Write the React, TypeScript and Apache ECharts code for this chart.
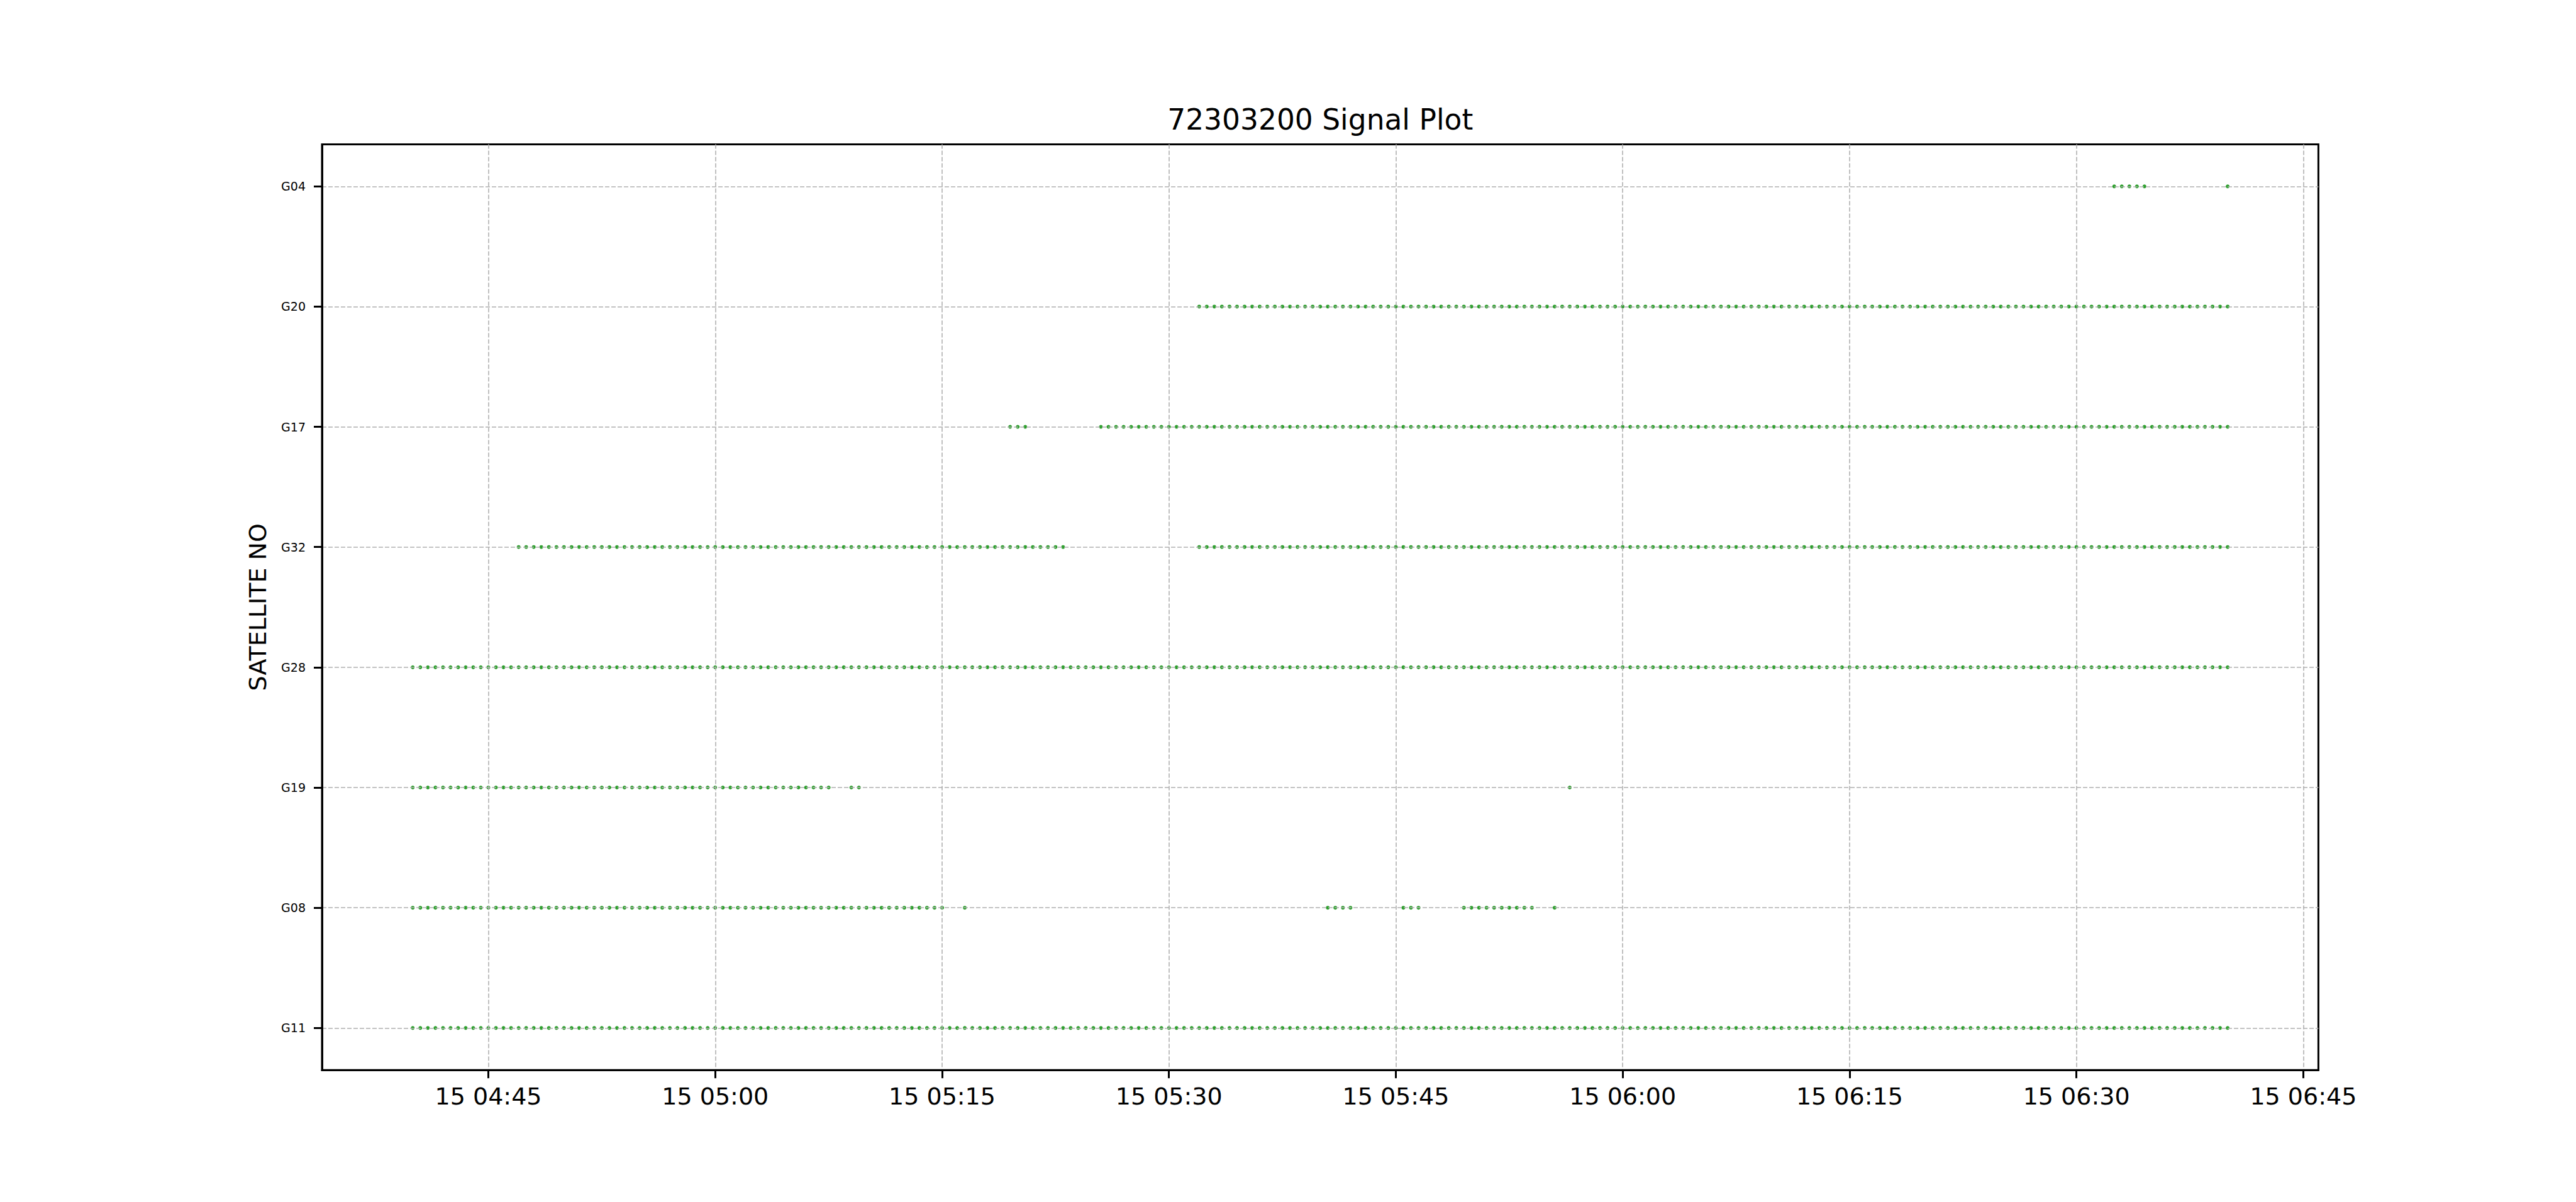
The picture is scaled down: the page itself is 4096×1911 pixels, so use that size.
import React, { useEffect, useRef } from "react";
import * as echarts from "echarts";

// ---------------- data ----------------
const TITLE = "72303200 Signal Plot";
const Y_NAME = "SATELLITE NO";
const DAY = [2023, 10, 15]; // year, month index, day (only the day "15" is shown)
const EPOCH_STEP_S = 30; // receiver sampling interval

// satellites, bottom to top
const SATELLITES = ["G11", "G08", "G19", "G28", "G32", "G17", "G20", "G04"];

const G11_ARCS = [["04:40:00", "06:40:00"]];
const G08_ARCS = [
  ["04:40:00", "05:15:00"],
  ["05:16:30", "05:16:30"],
  ["05:40:30", "05:42:00"],
  ["05:45:30", "05:46:30"],
  ["05:49:30", "05:54:00"],
  ["05:55:30", "05:55:30"],
];
const G19_ARCS = [
  ["04:40:00", "05:07:30"],
  ["05:09:00", "05:09:30"],
  ["05:56:30", "05:56:30"],
];
const G28_ARCS = [["04:40:00", "06:40:00"]];
const G32_ARCS = [
  ["04:47:00", "05:23:00"],
  ["05:32:00", "06:40:00"],
];
const G17_ARCS = [
  ["05:19:30", "05:20:30"],
  ["05:25:30", "06:40:00"],
];
const G20_ARCS = [["05:32:00", "06:40:00"]];
const G04_ARCS = [
  ["06:32:30", "06:34:30"],
  ["06:40:00", "06:40:00"],
];

const ARCS_BY_SAT: Record<string, string[][]> = {
  G11: G11_ARCS,
  G08: G08_ARCS,
  G19: G19_ARCS,
  G28: G28_ARCS,
  G32: G32_ARCS,
  G17: G17_ARCS,
  G20: G20_ARCS,
  G04: G04_ARCS,
};

const X_MIN = "04:34:00";
const X_MAX = "06:46:00";
const X_TICKS = ["04:45", "05:00", "05:15", "05:30", "05:45", "06:00", "06:15", "06:30", "06:45"];

// ---------------- helpers ----------------
function toMs(hms: string): number {
  const p = hms.split(":").map(Number);
  return Date.UTC(DAY[0], DAY[1], DAY[2], p[0], p[1], p[2] || 0);
}
function pad(n: number) {
  return n < 10 ? "0" + n : "" + n;
}
function fmtTime(v: number): string {
  const d = new Date(v);
  return pad(d.getUTCDate()) + " " + pad(d.getUTCHours()) + ":" + pad(d.getUTCMinutes());
}

function buildPoints(): number[][] {
  const pts: number[][] = [];
  SATELLITES.forEach((sat, idx) => {
    const arcs = ARCS_BY_SAT[sat] || [];
    arcs.forEach(([a, b]) => {
      const s = toMs(a);
      const e = toMs(b);
      for (let t = s; t <= e; t += EPOCH_STEP_S * 1000) pts.push([t, idx]);
    });
  });
  return pts;
}

const S = 4096 / 5400;
const FONT = "DejaVu Sans";

export default function App() {
  const ref = useRef<HTMLDivElement | null>(null);

  useEffect(() => {
    document.body.style.margin = "0";
    if (!ref.current) return;
    const chart = echarts.init(ref.current, undefined, { renderer: "svg" });

    const left = 675 * S;
    const right = 4860 * S;
    const top = 302.4 * S;
    const bottom = 2242.8 * S;

    const xTickValues = X_TICKS.map((t) => toMs(t + ":00"));
    const yTickValues = SATELLITES.map((_, i) => i);

    const gridLine = {
      show: true,
      lineStyle: { color: "#b0b0b0", width: 1.6, type: [7, 3] as any },
    };

    chart.setOption({
      animation: false,
      backgroundColor: "#ffffff",
      textStyle: { fontFamily: FONT },
      grid: {
        left,
        top,
        width: right - left,
        height: bottom - top,
        show: true,
        borderColor: "#000000",
        borderWidth: 3,
        backgroundColor: "transparent",
        containLabel: false,
      },
      xAxis: {
        type: "value",
        min: toMs(X_MIN),
        max: toMs(X_MAX),
        z: 3,
        axisLine: { show: true, onZero: false, lineStyle: { color: "#000", width: 3 } },
        axisTick: {
          show: true,
          inside: false,
          length: 13,
          customValues: xTickValues,
          lineStyle: { color: "#000", width: 3 },
        },
        axisLabel: {
          show: true,
          customValues: xTickValues,
          formatter: (v: number) => fmtTime(v),
          fontSize: 38,
          fontFamily: FONT,
          color: "#000",
          margin: 23,
        },
        splitLine: gridLine,
      },
      yAxis: {
        type: "value",
        min: -0.35,
        max: SATELLITES.length - 1 + 0.35,
        z: 3,
        axisLine: { show: true, onZero: false, lineStyle: { color: "#000", width: 3 } },
        axisTick: {
          show: true,
          inside: false,
          length: 13,
          customValues: yTickValues,
          lineStyle: { color: "#000", width: 3 },
        },
        axisLabel: {
          show: true,
          customValues: yTickValues,
          formatter: (v: number) => SATELLITES[Math.round(v)] ?? "",
          fontSize: 19,
          fontFamily: FONT,
          color: "#000",
          margin: 26,
        },
        splitLine: gridLine,
      },
      series: [
        {
          type: "scatter",
          z: 2,
          symbol: "circle",
          symbolSize: 6,
          itemStyle: { color: "#2ca02c", opacity: 1 },
          data: buildPoints(),
          silent: true,
        },
      ],
      graphic: [
        {
          type: "text",
          x: (left + right) / 2,
          y: 190,
          style: {
            text: TITLE,
            fontSize: 45.5,
            fontFamily: FONT,
            fill: "#000",
            align: "center",
            verticalAlign: "middle",
          },
        },
        {
          type: "text",
          x: 410,
          y: (top + bottom) / 2,
          rotation: Math.PI / 2,
          style: {
            text: Y_NAME,
            fontSize: 38,
            fontFamily: FONT,
            fill: "#000",
            align: "center",
            verticalAlign: "middle",
          },
        },
      ],
    });

    return () => chart.dispose();
  }, []);

  return <div ref={ref} style={{ width: 4096, height: 1911 }} />;
}
